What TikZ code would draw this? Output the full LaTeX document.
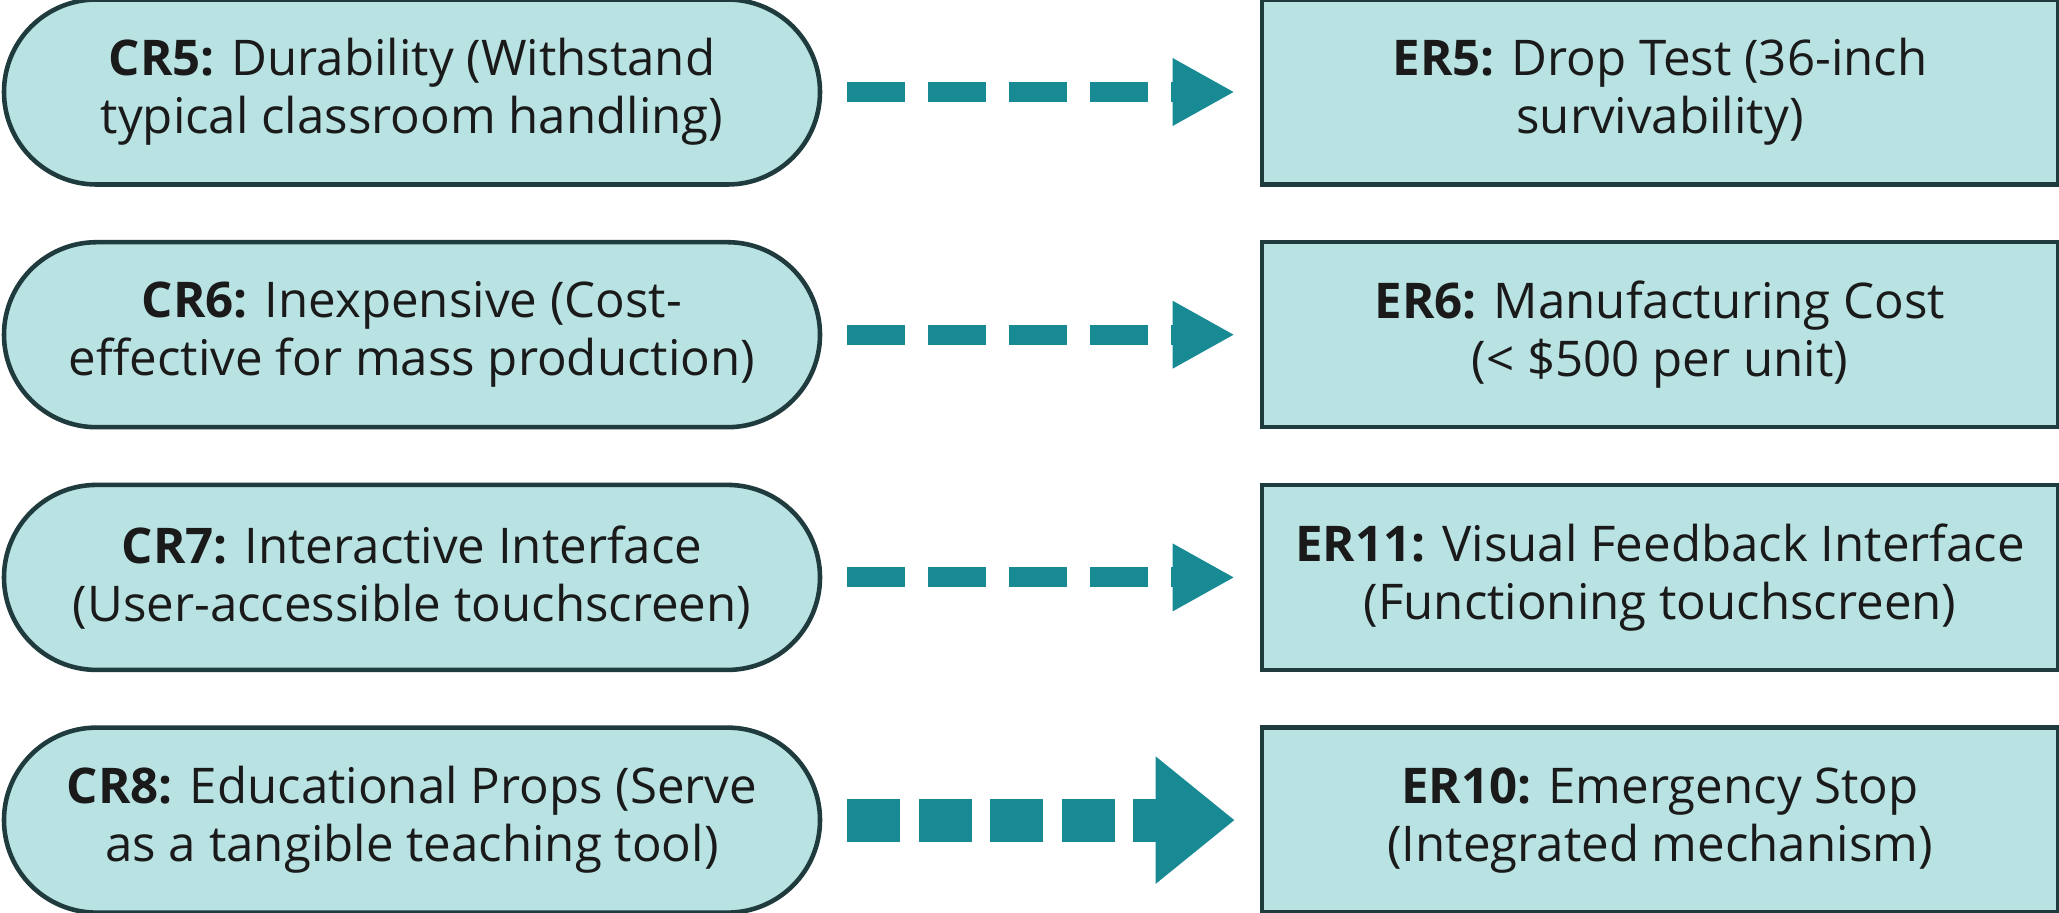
\documentclass[tikz,border=0pt]{standalone}
\usepackage{fontspec}
\setmainfont{Open Sans}
\usetikzlibrary{arrows.meta}

\definecolor{reqfill}{HTML}{B9E2E3}
\definecolor{reqline}{HTML}{1F3B3E}
\definecolor{flowteal}{HTML}{178A94}
\definecolor{inktext}{HTML}{1A1A1A}

\begin{document}
\begin{tikzpicture}
    % Define styles for requirements and arrows
    \tikzstyle{custreq} = [draw=reqline, line width=1.3pt, fill=reqfill, rectangle, rounded corners=0.925cm, minimum width=8.16cm, minimum height=1.85cm, align=center, text=inktext, font=\fontsize{14}{16.5}\selectfont]
    \tikzstyle{engreq} = [draw=reqline, line width=1.3pt, fill=reqfill, rectangle, minimum width=7.96cm, minimum height=1.85cm, align=center, text=inktext, font=\fontsize{14}{16.5}\selectfont]
    \tikzstyle{flow} = [flowteal, line width=0.2cm, dash pattern=on 0.58cm off 0.23cm, shorten <=0.25cm, shorten >=0.25cm, -{Triangle[length=0.62cm, width=0.63cm]}]
    \tikzstyle{flowbig} = [flowteal, line width=0.43cm, dash pattern=on 0.53cm off 0.185cm, shorten <=0.25cm, shorten >=0.25cm, -{Triangle[length=0.79cm, width=1.22cm]}]

    \useasboundingbox (0,0) rectangle (20.59,-9.12);

    % Draw the rows
    \foreach \row/\ctext/\etext/\arr in {
        1/{\textbf{CR5:} Durability (Withstand\\typical classroom handling)}/{\textbf{ER5:} Drop Test (36-inch\\survivability)}/flow,
        2/{\textbf{CR6:} Inexpensive (Cost-\\effective for mass production)}/{\textbf{ER6:} Manufacturing Cost\\(< \$500 per unit)}/flow,
        3/{\textbf{CR7:} Interactive Interface\\(User-accessible touchscreen)}/{\textbf{ER11:} Visual Feedback Interface\\(Functioning touchscreen)}/flow,
        4/{\textbf{CR8:} Educational Props (Serve\\as a tangible teaching tool)}/{\textbf{ER10:} Emergency Stop\\(Integrated mechanism)}/flowbig} {
        \node(cr\row)[custreq] at (4.12, {-0.92-(\row-1)*2.427}) {\ctext};
        \node(er\row)[engreq] at (16.6, {-0.92-(\row-1)*2.427}) {\etext};
        \draw[\arr] (cr\row) -- (er\row);
      }
  \end{tikzpicture}
\end{document}
